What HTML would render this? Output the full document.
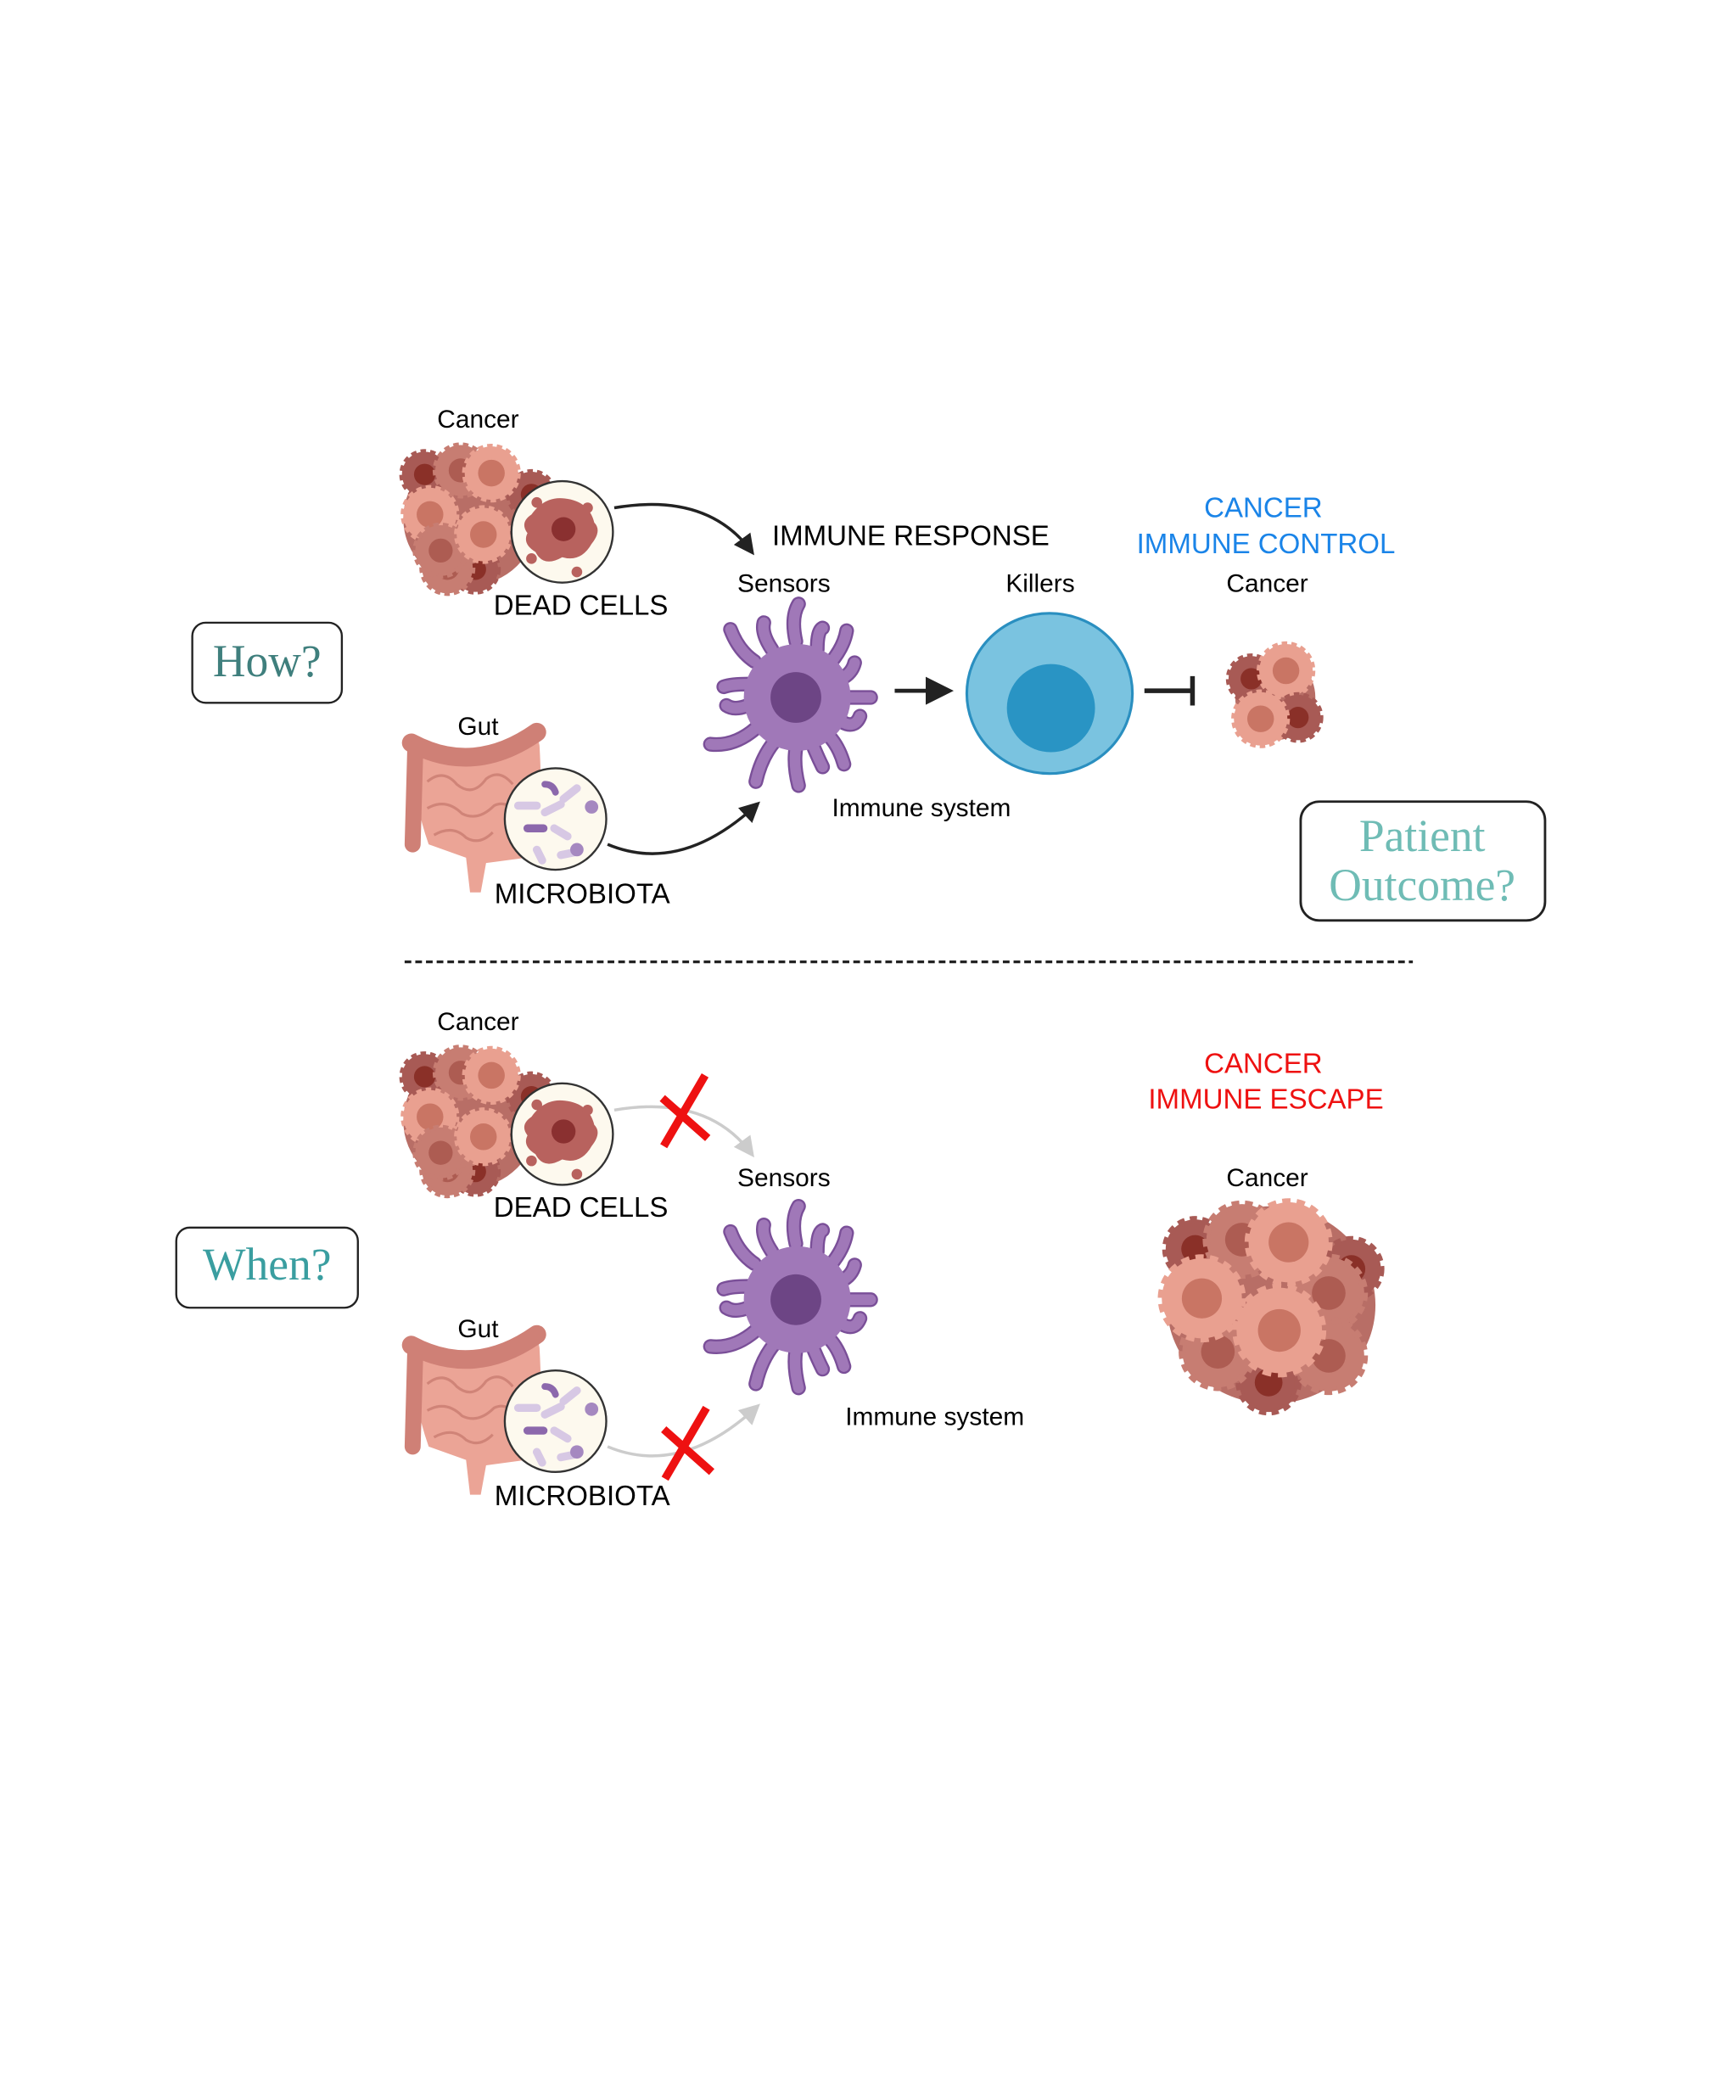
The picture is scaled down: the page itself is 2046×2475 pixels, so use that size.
<!DOCTYPE html>
<html><head><meta charset="utf-8"><style>
html,body{margin:0;padding:0;background:#fff}
svg{display:block}
text{font-family:"Liberation Sans",sans-serif}
.s{font-family:"Liberation Serif",serif}
</style></head><body>
<svg width="2046" height="2475" viewBox="0 0 1300 1572" xmlns="http://www.w3.org/2000/svg">
<defs>
<marker id="ah" viewBox="0 0 10 10" refX="8" refY="5" markerWidth="7" markerHeight="7" orient="auto"><path d="M0,0 L10,5 L0,10 z" fill="#222"/></marker>
<marker id="ahg" viewBox="0 0 10 10" refX="8" refY="5" markerWidth="7" markerHeight="7" orient="auto"><path d="M0,0 L10,5 L0,10 z" fill="#ccc"/></marker>
<g id="cl">
<circle cx="0" cy="0" r="20" fill="#e9a090" stroke="#e9a090" stroke-width="4" stroke-dasharray="4 3"/>
<circle cx="0" cy="0" r="10" fill="#c97564"/>
</g>
<g id="cm">
<circle cx="0" cy="0" r="19" fill="#c77d72" stroke="#c77d72" stroke-width="4" stroke-dasharray="4 3"/>
<circle cx="0" cy="0" r="9" fill="#ad5c52"/>
</g>
<g id="cd">
<circle cx="0" cy="0" r="17" fill="#a85a55" stroke="#a85a55" stroke-width="4" stroke-dasharray="4 3"/>
<circle cx="0" cy="0" r="8" fill="#8a3028"/>
</g>
<g id="cluster">
<ellipse cx="352" cy="388" rx="50" ry="50" fill="#b86e66"/>
<use href="#cd" x="318" y="355"/>
<use href="#cm" x="345" y="352"/>
<use href="#cd" x="398" y="370"/>
<use href="#cd" x="356" y="426"/>
<use href="#cl" x="368" y="354"/>
<use href="#cm" x="335" y="425"/>
<use href="#cl" x="322" y="385"/>
<use href="#cm" x="330" y="412"/>
<use href="#cl" x="362" y="400"/>
<circle cx="421" cy="398" r="38" fill="#fdf9ee" stroke="#333" stroke-width="1.5"/>
<path d="M398,385 q10,-14 25,-12 q18,2 22,18 q6,6 -2,16 q-8,14 -22,10 q-14,8 -20,-4 q-10,-6 -6,-14 q-6,-8 3,-14z" fill="#b8625e"/>
<circle cx="402" cy="376" r="4" fill="#b8625e"/><circle cx="440" cy="380" r="4" fill="#b8625e"/>
<circle cx="398" cy="418" r="4" fill="#b8625e"/><circle cx="432" cy="428" r="4" fill="#b8625e"/>
<circle cx="422" cy="396" r="9" fill="#8a3030"/>
</g>
<g id="gut">
<path d="M310,556 q45,22 92,-8 l2,10 q4,70 -10,84 l-30,4 l-4,22 l-8,0 l-3,-26 l-28,-10 q-14,-40 -11,-76z" fill="#eba496"/>
<path d="M308,556 q47,25 94,-8" stroke="#cf8076" stroke-width="14" fill="none" stroke-linecap="round"/>
<path d="M311,560 l-2,72" stroke="#cf8076" stroke-width="12" fill="none" stroke-linecap="round"/>
<path d="M320,585 q12,-10 22,2 q12,10 22,-4 q10,-8 20,4 M320,605 q14,-8 26,4 q12,6 24,-6 q8,-4 16,4 M325,625 q14,-8 24,2 q10,6 20,-4" stroke="#d08478" stroke-width="2" fill="none"/>
<circle cx="416" cy="613" r="38" fill="#fdf9ee" stroke="#333" stroke-width="1.5"/>
<g stroke-linecap="round" fill="none">
<path d="M388,603 l14,0" stroke="#d7c8e4" stroke-width="6"/>
<path d="M408,608 l12,-6" stroke="#d7c8e4" stroke-width="6"/>
<path d="M395,620 l12,0" stroke="#8c68ac" stroke-width="6"/>
<path d="M415,620 l10,6" stroke="#d7c8e4" stroke-width="6"/>
<path d="M422,598 l10,-8" stroke="#d7c8e4" stroke-width="6"/>
<path d="M408,587 q6,0 8,6" stroke="#8c68ac" stroke-width="5"/>
<path d="M402,636 l4,8" stroke="#d7c8e4" stroke-width="6"/>
<path d="M420,640 l10,-2" stroke="#d7c8e4" stroke-width="6"/>
</g>
<circle cx="443" cy="604" r="5" fill="#a588c0"/><circle cx="432" cy="636" r="5" fill="#a588c0"/>
</g>
<g id="dc">
<g stroke="#7a4f98" stroke-width="11" stroke-linecap="round" fill="none">
<path d="M596,480 q-4,-18 2,-28 M578,486 q-8,-12 -6,-20 M612,486 q0,-14 4,-16 M622,496 q10,-12 12,-24 M565,495 q-12,-8 -18,-24 M630,508 q8,-4 10,-12 M560,512 q-12,0 -18,2 M636,522 q8,0 16,0 M560,528 q-10,4 -16,0 M630,540 q10,6 14,-4 M566,545 q-16,14 -34,12 M580,555 q-10,12 -14,30 M596,560 q-2,12 2,28 M608,556 q4,10 8,18 M620,550 q8,8 12,22"/>
</g>
<g stroke="#a078b8" stroke-width="8" stroke-linecap="round" fill="none">
<path d="M596,480 q-4,-18 2,-28 M578,486 q-8,-12 -6,-20 M612,486 q0,-14 4,-16 M622,496 q10,-12 12,-24 M565,495 q-12,-8 -18,-24 M630,508 q8,-4 10,-12 M560,512 q-12,0 -18,2 M636,522 q8,0 16,0 M560,528 q-10,4 -16,0 M630,540 q10,6 14,-4 M566,545 q-16,14 -34,12 M580,555 q-10,12 -14,30 M596,560 q-2,12 2,28 M608,556 q4,10 8,18 M620,550 q8,8 12,22"/>
</g>
<circle cx="597" cy="522" r="40" fill="#a078b8"/>
<circle cx="596" cy="522" r="19" fill="#6d4585"/>
</g>
</defs>

<!-- TOP -->
<text x="358" y="320" font-size="19" text-anchor="middle">Cancer</text>
<use href="#cluster"/>
<text x="435" y="460" font-size="21" text-anchor="middle">DEAD CELLS</text>
<path d="M460,380 Q530,368 563,413" stroke="#222" stroke-width="2.2" fill="none" marker-end="url(#ah)"/>
<text x="682" y="408" font-size="21" text-anchor="middle">IMMUNE RESPONSE</text>
<text x="946" y="387" font-size="21" text-anchor="middle" fill="#1a84e8">CANCER</text>
<text x="948" y="414" font-size="21" text-anchor="middle" fill="#1a84e8">IMMUNE CONTROL</text>
<text x="587" y="443" font-size="19" text-anchor="middle">Sensors</text>
<text x="779" y="443" font-size="19" text-anchor="middle">Killers</text>
<text x="949" y="443" font-size="19" text-anchor="middle">Cancer</text>
<rect x="144" y="466" width="112" height="60" rx="10" fill="#fff" stroke="#222" stroke-width="1.5"/>
<text x="200" y="506" class="s" font-size="34" text-anchor="middle" fill="#3f7f7d">How?</text>
<use href="#dc"/>
<path d="M670,517 L710,517" stroke="#222" stroke-width="3" marker-end="url(#ah)"/>
<ellipse cx="786" cy="519" rx="62" ry="60" fill="#7ac3e0" stroke="#2a8fc0" stroke-width="2"/>
<circle cx="787" cy="530" r="33" fill="#2994c4"/>
<path d="M857,517 L893,517 M893,506 L893,528" stroke="#222" stroke-width="3.5"/>
<ellipse cx="955" cy="522" rx="30" ry="32" fill="#b86e66"/>
<use href="#cd" x="937" y="508"/>
<use href="#cl" x="963" y="502"/>
<use href="#cd" x="972" y="537"/>
<use href="#cl" x="944" y="538"/>
<text x="358" y="550" font-size="19" text-anchor="middle">Gut</text>
<use href="#gut"/>
<text x="436" y="676" font-size="21" text-anchor="middle">MICROBIOTA</text>
<path d="M455,632 Q510,655 567,602" stroke="#222" stroke-width="2.2" fill="none" marker-end="url(#ah)"/>
<text x="690" y="611" font-size="19" text-anchor="middle">Immune system</text>
<rect x="974" y="600" width="183" height="89" rx="14" fill="#fff" stroke="#222" stroke-width="1.8"/>
<text x="1065" y="637" class="s" font-size="34" text-anchor="middle" fill="#6fbcb5">Patient</text>
<text x="1065" y="674" class="s" font-size="34" text-anchor="middle" fill="#6fbcb5">Outcome?</text>
<line x1="303" y1="720" x2="1058" y2="720" stroke="#222" stroke-width="2" stroke-dasharray="5 3"/>

<!-- BOTTOM -->
<text x="358" y="771" font-size="19" text-anchor="middle">Cancer</text>
<use href="#cluster" y="451"/>
<text x="435" y="911" font-size="21" text-anchor="middle">DEAD CELLS</text>
<path d="M460,831 Q530,819 563,864" stroke="#ccc" stroke-width="2.2" fill="none" marker-end="url(#ahg)"/>
<path d="M528,805 L497,858 M496,822 L530,852" stroke="#ee1111" stroke-width="6" stroke-linecap="butt"/>
<text x="946" y="803" font-size="21" text-anchor="middle" fill="#ee1111">CANCER</text>
<text x="948" y="830" font-size="21" text-anchor="middle" fill="#ee1111">IMMUNE ESCAPE</text>
<text x="587" y="888" font-size="19" text-anchor="middle">Sensors</text>
<text x="949" y="888" font-size="19" text-anchor="middle">Cancer</text>
<rect x="132" y="919" width="136" height="60" rx="10" fill="#fff" stroke="#222" stroke-width="1.5"/>
<text x="200" y="958" class="s" font-size="34" text-anchor="middle" fill="#3a9ea0">When?</text>
<use href="#dc" y="451"/>
<ellipse cx="952" cy="977" rx="78" ry="74" fill="#b86e66"/>
<use href="#cd" transform="translate(895,935) scale(1.3)"/>
<use href="#cd" transform="translate(1012,950) scale(1.3)"/>
<use href="#cd" transform="translate(950,1035) scale(1.3)"/>
<use href="#cm" transform="translate(930,928) scale(1.4)"/>
<use href="#cm" transform="translate(995,968) scale(1.4)"/>
<use href="#cm" transform="translate(912,1012) scale(1.4)"/>
<use href="#cm" transform="translate(995,1015) scale(1.4)"/>
<use href="#cl" transform="translate(965,930) scale(1.5)"/>
<use href="#cl" transform="translate(900,972) scale(1.5)"/>
<use href="#cl" transform="translate(958,996) scale(1.6)"/>
<text x="358" y="1001" font-size="19" text-anchor="middle">Gut</text>
<use href="#gut" y="451"/>
<text x="436" y="1127" font-size="21" text-anchor="middle">MICROBIOTA</text>
<path d="M455,1083 Q510,1106 567,1053" stroke="#ccc" stroke-width="2.2" fill="none" marker-end="url(#ahg)"/>
<path d="M529,1054 L498,1107 M497,1070 L533,1102" stroke="#ee1111" stroke-width="6"/>
<text x="700" y="1067" font-size="19" text-anchor="middle">Immune system</text>
</svg>
</body></html>
